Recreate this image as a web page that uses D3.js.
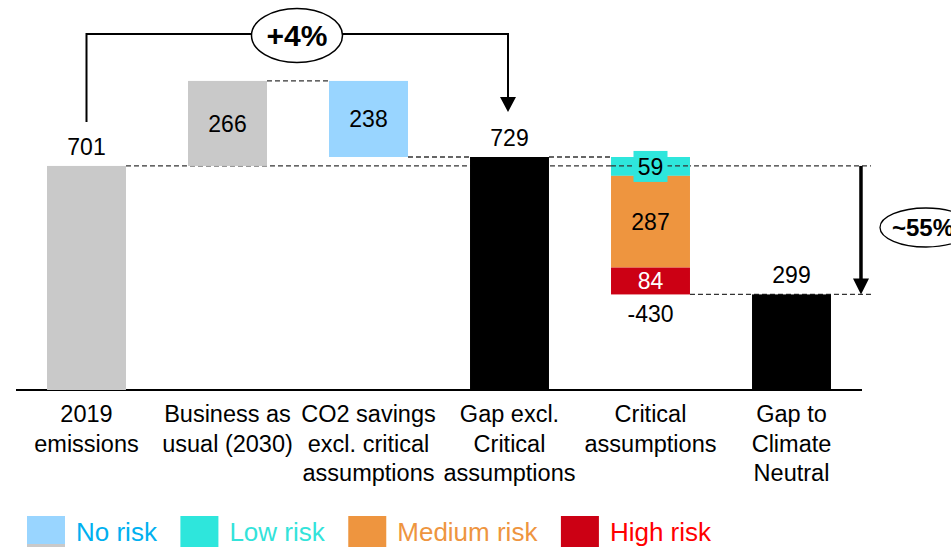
<!DOCTYPE html>
<html>
<head>
<meta charset="utf-8">
<script src="https://cdn.jsdelivr.net/npm/d3@7/dist/d3.min.js"></script>
<style>
  html, body { margin: 0; padding: 0; background: #fff; }
  svg { display: block; font-family: "Liberation Sans", Arial, sans-serif; }
</style>
</head>
<body>
<svg id="chart" width="951" height="547"></svg>
<script>
// ---------- data ----------
const categories = ["2019 emissions", "Business as usual (2030)", "CO2 savings excl. critical assumptions",
                    "Gap excl. Critical assumptions", "Critical assumptions", "Gap to Climate Neutral"];
const categoryLines = [["2019", "emissions"], ["Business as", "usual (2030)"], ["CO2 savings", "excl. critical", "assumptions"],
                       ["Gap excl.", "Critical", "assumptions"], ["Critical", "assumptions"], ["Gap to", "Climate", "Neutral"]];
const stepTypes = ["total", "delta", "delta", "total", "stack", "total"];
const stepValues = [701, 266, -238, 729, -430, 299];
const stepRisk = ["base", "base", "No risk", "gap", "", "gap"];
const criticalValues = [59, 287, 84];
const criticalRisk = ["Low risk", "Medium risk", "High risk"];
const legendLabels = ["No risk", "Low risk", "Medium risk", "High risk"];
const growthLabel = "+4%";
const reductionLabel = "~55%";

// ---------- styles ----------
const fillColor = { "base": "#c9c9c9", "gap": "#000000", "No risk": "#99d5ff", "Low risk": "#2ee6dc",
                    "Medium risk": "#ee953f", "High risk": "#cc0014" };
const legendTextColor = { "No risk": "#00b0f0", "Low risk": "#33e3da", "Medium risk": "#ee953f", "High risk": "#ff0000" };

const svg = d3.select("#chart");
const x = d3.scaleBand().domain(categories).range([16, 862]).paddingInner(0.44).paddingOuter(0.22);
const y = d3.scaleLinear().domain([0, 729]).range([390, 157]);
const bw = x.bandwidth();
const cx = c => x(c) + bw / 2;

// compute waterfall geometry
let running = 0;
const bars = [];
const labels = [];
categories.forEach((c, i) => {
  const t = stepTypes[i], v = stepValues[i];
  if (t === "total") {
    running = v;
    bars.push({ c, y0: 0, y1: v, fill: fillColor[stepRisk[i]] });
    labels.push({ c, text: String(v), yPos: y(v) - 11, color: "#000" });
  } else if (t === "delta") {
    const a = running, b = running + v;
    bars.push({ c, y0: Math.min(a, b), y1: Math.max(a, b), fill: fillColor[stepRisk[i]] });
    labels.push({ c, text: String(Math.abs(v)), yPos: (y(a) + y(b)) / 2, mid: true, color: "#000" });
    running = b;
  } else {
    let top = running;
    criticalValues.forEach((cv, k) => {
      const bot = top - cv;
      bars.push({ c, y0: bot, y1: top, fill: fillColor[criticalRisk[k]], seg: k, label: String(cv) });
      top = bot;
    });
    labels.push({ c, text: String(v), yPos: y(running + v) + 28, color: "#000" });
    running = running + v;
  }
});

// dashed connector lines (behind bars)
const dash = svg.append("g").attr("stroke", "#333").attr("stroke-width", 1.3).attr("stroke-dasharray", "5,3").attr("fill", "none");
const arrowX = x(categories[5]) + bw + 30;
const connectors = [
  [x(categories[0]) + bw, arrowX + 10, 701],
  [x(categories[1]) + bw, x(categories[2]), 967],
  [x(categories[2]) + bw, x(categories[3]), 729],
  [x(categories[3]) + bw, x(categories[4]), 729],
  [x(categories[4]) + bw, arrowX + 10, 299]
];
connectors.forEach(([x1, x2, v]) => dash.append("line").attr("x1", x1).attr("x2", x2).attr("y1", y(v)).attr("y2", y(v)));

// baseline
svg.append("line").attr("x1", 16).attr("x2", 862).attr("y1", y(0)).attr("y2", y(0)).attr("stroke", "#000").attr("stroke-width", 2);

// bars
svg.append("g").selectAll("rect").data(bars).join("rect")
  .attr("x", d => x(d.c)).attr("width", bw)
  .attr("y", d => y(d.y1)).attr("height", d => y(d.y0) - y(d.y1))
  .attr("fill", d => d.fill);

// dashed line over the critical bar
dash.clone(false).raise().append("line")
  .attr("x1", x(categories[4])).attr("x2", x(categories[4]) + bw).attr("y1", y(701)).attr("y2", y(701));

// segment labels in critical stack
bars.filter(d => d.seg !== undefined).forEach(d => {
  const ym = (y(d.y0) + y(d.y1)) / 2;
  if (d.seg === 0) {
    svg.append("rect").attr("x", cx(d.c) - 17).attr("y", ym - 15.5).attr("width", 34).attr("height", 31).attr("fill", d.fill);
  }
  svg.append("text").attr("x", cx(d.c)).attr("y", ym).attr("dy", "0.36em")
    .attr("text-anchor", "middle").attr("font-size", 23)
    .attr("fill", d.seg === 2 ? "#fff" : "#000").text(d.label);
});

// value labels
svg.append("g").selectAll("text").data(labels).join("text")
  .attr("x", d => cx(d.c)).attr("y", d => d.yPos).attr("dy", d => d.mid ? "0.36em" : 0)
  .attr("text-anchor", "middle").attr("font-size", 23).attr("fill", d => d.color).text(d => d.text);

// category labels
const cat = svg.append("g").selectAll("text").data(categories).join("text")
  .attr("x", d => cx(d)).attr("y", 422).attr("text-anchor", "middle").attr("font-size", 23.5).attr("fill", "#000");
cat.each(function (d, i) {
  d3.select(this).selectAll("tspan").data(categoryLines[i]).join("tspan")
    .attr("x", cx(d)).attr("dy", (t, k) => k === 0 ? 0 : 29.5).text(t => t);
});

// +4% bracket
const bx1 = cx(categories[0]), bx2 = cx(categories[3]) - 1.5, by = 34;
const tip = y(729) - 45;
svg.append("path").attr("d", `M${bx1},${y(701) - 44}V${by}H${bx2}V${tip - 14}`)
  .attr("fill", "none").attr("stroke", "#000").attr("stroke-width", 2);
svg.append("path").attr("d", `M${bx2 - 8},${tip - 15}L${bx2 + 8},${tip - 15}L${bx2},${tip}Z`).attr("fill", "#000");
svg.append("ellipse").attr("cx", 297).attr("cy", 35.5).attr("rx", 45.5).attr("ry", 27)
  .attr("fill", "#fff").attr("stroke", "#000").attr("stroke-width", 1.5);
svg.append("text").attr("x", 297).attr("y", 35.5).attr("dy", "0.36em").attr("text-anchor", "middle")
  .attr("font-size", 30).attr("font-weight", "bold").text(growthLabel);

// reduction arrow
svg.append("line").attr("x1", arrowX).attr("x2", arrowX).attr("y1", y(701)).attr("y2", y(299) - 14)
  .attr("stroke", "#000").attr("stroke-width", 3.5);
svg.append("path").attr("d", `M${arrowX - 8},${y(299) - 16}L${arrowX + 8},${y(299) - 16}L${arrowX},${y(299)}Z`).attr("fill", "#000");
svg.append("ellipse").attr("cx", 926).attr("cy", 227.5).attr("rx", 46).attr("ry", 19.5)
  .attr("fill", "#fff").attr("stroke", "#000").attr("stroke-width", 1.3);
svg.append("text").attr("x", 892).attr("y", 227.5).attr("dy", "0.36em")
  .attr("font-size", 24).attr("font-weight", "bold").text(reductionLabel);

// legend
let lx = 27;
svg.append("rect").attr("x", 27).attr("y", 540).attr("width", 38).attr("height", 10).attr("fill", "#c9c9c9");
legendLabels.forEach(l => {
  svg.append("rect").attr("x", lx).attr("y", 516).attr("width", 38).attr("height", l === "No risk" ? 28 : 34).attr("fill", fillColor[l]);
  const t = svg.append("text").attr("x", lx + 49).attr("y", 541).attr("font-size", 26).attr("fill", legendTextColor[l]).text(l);
  lx = lx + 49 + t.node().getComputedTextLength() + 23.5;
});
</script>
</body>
</html>
